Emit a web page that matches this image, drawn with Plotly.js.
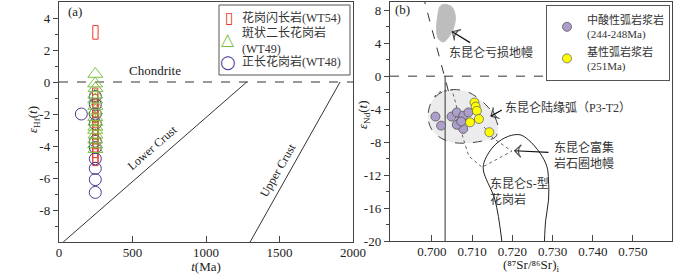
<!DOCTYPE html>
<html><head><meta charset="utf-8">
<script src="https://cdn.plot.ly/plotly-3.0.1.min.js"></script>
<style>html,body{margin:0;padding:0;background:#fff}#chart{width:700px;height:274px}</style>
</head><body><div id="chart"></div>
<script>
// ---------- Panel (a): zircon Hf isotopes ----------
const ageWT54 = [248, 246, 247, 248, 246, 247, 248, 246, 247, 248, 246, 247, 248, 246, 247, 248];
const hfWT54  = [3.1, -0.8, -1.2, -1.5, -1.8, -2.1, -2.4, -2.6, -2.9, -3.1, -3.4, -3.7, -4.0, -4.3, -4.6, -4.8];
const ageWT49 = [247, 246, 248, 247, 246, 248, 247, 246, 248, 247, 246, 248, 247, 246, 248];
const hfWT49  = [0.5, -0.1, -0.4, -0.8, -1.1, -1.5, -1.8, -2.2, -2.5, -2.8, -3.0, -3.3, -3.6, -3.9, -4.2];
const ageWT48 = [152, 247, 247, 247, 247, 247, 247, 247, 247, 247, 247];
const hfWT48  = [-2.0, -0.9, -1.4, -2.0, -2.6, -3.7, -4.1, -4.8, -5.4, -6.1, -6.9];

const chondriteT = [0, 2000],   chondriteHf = [0, 0];
const lowerCrustT = [29, 1277], lowerCrustHf = [-10, 0];
const upperCrustT = [1300, 1912], upperCrustHf = [-10, 0];

const tickAx = [0, 500, 1000, 1500, 2000];
const tickAy = [-8, -6, -4, -2, 0, 2, 4];
const tickAyText = ['-8', '-6', '-4', '-2', '0', '2', '4'];
const minorAy = [-9, -7, -5, -3, -1, 1, 3];

// ---------- Panel (b): whole-rock Sr-Nd ----------
const srFelsicArc = [0.7009, 0.7023, 0.7049, 0.7062, 0.7066, 0.7074, 0.7078, 0.7091, 0.7078, 0.7062, 0.7073];
const ndFelsicArc = [-4.9, -6.0, -4.9, -4.4, -5.8, -5.2, -4.8, -4.4, -6.4, -5.9, -5.5];
const srMaficArc  = [0.7106, 0.7109, 0.7112, 0.7117, 0.7095, 0.7143];
const ndMaficArc  = [-3.2, -3.7, -4.2, -5.2, -5.6, -6.8];

const depletedMantleSr = [0.7029, 0.7049, 0.7058, 0.7056, 0.7045, 0.7029, 0.7016, 0.7012, 0.7015, 0.7020, 0.7029];
const depletedMantleNd = [8.71, 8.43, 7.40, 6.18, 4.96, 4.16, 4.56, 5.78, 7.40, 8.43, 8.71];
const arcFieldSr = [0.6995, 0.7008, 0.7028, 0.7053, 0.7087, 0.7112, 0.7140, 0.7157, 0.7165, 0.7157, 0.7128, 0.7087, 0.7053, 0.7020, 0.6999, 0.6991, 0.6995];
const arcFieldNd = [-3.57, -2.55, -1.87, -1.62, -1.87, -2.55, -3.77, -4.99, -6.41, -7.43, -7.84, -8.12, -8.04, -7.43, -6.41, -5.20, -3.57];
const enrichedMantleSr = [0.7005, 0.7020, 0.7050, 0.7060, 0.7068, 0.7077, 0.7092, 0.7125, 0.7162, 0.7199, 0.7152, 0.7130];
const enrichedMantleNd = [-2.51, -1.90, -1.66, -3.37, -5.20, -7.39, -9.71, -11.05, -10.07, -9.10, -7.51, -6.17];
const sTypeSr = [0.7174, 0.7157, 0.7128, 0.7132, 0.7157, 0.7190, 0.7219, 0.7240, 0.7269, 0.7286, 0.7290, 0.7290, 0.7283, 0.7280];
const sTypeNd = [-20.0, -15.04, -11.38, -10.16, -8.33, -7.30, -7.11, -7.72, -9.34, -10.96, -12.60, -15.04, -17.48, -20.0];
const mantleArraySr = [0.6978, 0.7043], mantleArrayNd = [9.8, -2.15];
const bulkEarthSr = [0.7033, 0.7033], bulkEarthNd = [0, -20];
const churSr = [0.6896, 0.7597], churNd = [0, 0];

// label pointers (tail -> head)
const pointerDMSr = [0.7095, 0.7051], pointerDMNd = [4.07, 5.40];
const pointerArcSr = [0.7174, 0.7147], pointerArcNd = [-4.10, -4.85];
const pointerEMSr = [0.7290, 0.7206], pointerEMNd = [-9.24, -9.05];

const tickBx = [0.700, 0.710, 0.720, 0.730, 0.740, 0.750];
const tickBy = [-20, -16, -12, -8, -4, 0, 4, 8];
const tickByText = ['-20', '-16', '-12', '-8', '-4', '0', '4', '8'];
const minorBy = [-18, -14, -10, -6, -2, 2, 6];

// ---------- helpers ----------
const W = 700, H = 274;
const SERIF = 'Liberation Serif, "Noto Sans CJK SC", serif';
const CJK = 'Liberation Serif, "Noto Sans CJK SC", sans-serif';
const AX = '#444';
// open tall-rectangle symbol of WT54, drawn as hollow bars (size in data units of the axes)
const RECT_W = 36, RECT_H = 0.85;

function px(x, y) { return {x: x / W, y: 1 - y / H, xref: 'paper', yref: 'paper'}; }
function label(x, y, text, opts) {
  return Object.assign(px(x, y), {text: text, showarrow: false, xanchor: 'center', yanchor: 'middle',
    font: {family: CJK, size: 12, color: '#333'}}, opts || {});
}
function pointer(xs, ys) {
  return {x: xs, y: ys, mode: 'lines+markers', xaxis: 'x2', yaxis: 'y2', showlegend: false, hoverinfo: 'skip',
    line: {color: '#111', width: 1.2},
    marker: {symbol: 'arrow-wide-open', size: [0, 9], angleref: 'previous', color: '#111', line: {color: '#111', width: 1.2}}};
}

const traces = [
  // panel a reference lines
  {x: chondriteT, y: chondriteHf, mode: 'lines', line: {color: '#333', width: 1, dash: 'dash'}, xaxis: 'x', yaxis: 'y', showlegend: false, hoverinfo: 'skip'},
  {x: lowerCrustT, y: lowerCrustHf, mode: 'lines', line: {color: '#333', width: 1}, xaxis: 'x', yaxis: 'y', showlegend: false, hoverinfo: 'skip'},
  {x: upperCrustT, y: upperCrustHf, mode: 'lines', line: {color: '#333', width: 1}, xaxis: 'x', yaxis: 'y', showlegend: false, hoverinfo: 'skip'},
  // panel a data: WT54 open rectangles
  {type: 'bar', x: ageWT54, y: hfWT54.map(() => RECT_H), base: hfWT54.map(v => v - RECT_H / 2), width: RECT_W,
   name: '花岗闪长岩(WT54)', xaxis: 'x', yaxis: 'y', showlegend: false,
   marker: {color: 'rgba(0,0,0,0)', line: {color: '#ee3a2a', width: 1}}},
  {x: ageWT48, y: hfWT48, mode: 'markers', name: '正长花岗岩(WT48)', xaxis: 'x', yaxis: 'y', showlegend: false,
   marker: {symbol: 'circle-open', size: 12, color: '#4a3a8f', line: {width: 1}}},
  {x: ageWT49, y: hfWT49, mode: 'markers', name: '斑状二长花岗岩(WT49)', xaxis: 'x', yaxis: 'y', showlegend: false,
   marker: {symbol: 'triangle-up-open', size: 13, color: '#7cc142', line: {width: 1}}},

  // panel b fields
  {x: arcFieldSr, y: arcFieldNd, mode: 'lines', fill: 'toself', fillcolor: '#ececec', line: {color: '#444', width: 1, dash: 'dash', shape: 'spline'}, xaxis: 'x2', yaxis: 'y2', showlegend: false, hoverinfo: 'skip'},
  {x: depletedMantleSr, y: depletedMantleNd, mode: 'lines', fill: 'toself', fillcolor: '#bdbdbd', line: {color: '#bdbdbd', width: 1, shape: 'spline'}, xaxis: 'x2', yaxis: 'y2', showlegend: false, hoverinfo: 'skip'},
  {x: enrichedMantleSr, y: enrichedMantleNd, mode: 'lines', line: {color: '#666', width: 1, dash: 'dot'}, xaxis: 'x2', yaxis: 'y2', showlegend: false, hoverinfo: 'skip'},
  {x: sTypeSr, y: sTypeNd, mode: 'lines', line: {color: '#222', width: 1, shape: 'spline'}, xaxis: 'x2', yaxis: 'y2', showlegend: false, hoverinfo: 'skip'},
  {x: churSr, y: churNd, mode: 'lines', line: {color: '#333', width: 1, dash: 'dash'}, xaxis: 'x2', yaxis: 'y2', showlegend: false, hoverinfo: 'skip'},
  {x: mantleArraySr, y: mantleArrayNd, mode: 'lines', line: {color: '#333', width: 1, dash: 'dash'}, xaxis: 'x2', yaxis: 'y2', showlegend: false, hoverinfo: 'skip'},
  {x: bulkEarthSr, y: bulkEarthNd, mode: 'lines', line: {color: '#333', width: 1}, xaxis: 'x2', yaxis: 'y2', showlegend: false, hoverinfo: 'skip'},
  pointer(pointerDMSr, pointerDMNd),
  pointer(pointerArcSr, pointerArcNd),
  pointer(pointerEMSr, pointerEMNd),
  // panel b data
  {x: srFelsicArc, y: ndFelsicArc, mode: 'markers', name: '中酸性弧岩浆岩<br>(244-248Ma)', xaxis: 'x2', yaxis: 'y2',
   marker: {symbol: 'circle', size: 9, color: '#ad9fcb', line: {color: '#555', width: 0.8}}},
  {x: srMaficArc, y: ndMaficArc, mode: 'markers', name: '基性弧岩浆岩<br>(251Ma)', xaxis: 'x2', yaxis: 'y2',
   marker: {symbol: 'circle', size: 9, color: '#ffff00', line: {color: '#666', width: 0.8}}}
];

const axisCommon = {showline: true, linecolor: AX, linewidth: 1.2, mirror: true, showgrid: false, zeroline: false,
  tickcolor: AX, tickfont: {family: SERIF, size: 13, color: '#222'}};

const layout = {
  width: W, height: H, margin: {l: 0, r: 0, t: 0, b: 0},
  paper_bgcolor: '#fff', plot_bgcolor: '#fff',
  font: {family: SERIF, size: 13, color: '#222'},
  showlegend: true, barmode: 'overlay',
  legend: {x: 670 / W, xanchor: 'right', y: 1 - 5 / H, yanchor: 'top', bgcolor: '#fff', bordercolor: '#555', borderwidth: 1,
    font: {family: CJK, size: 11, color: '#333'}, itemsizing: 'trace', valign: 'middle', tracegroupgap: 2},
  xaxis: Object.assign({}, axisCommon, {domain: [59 / W, 353 / W], range: [0, 2000], anchor: 'y',
    tickvals: tickAx, ticks: 'inside', ticklen: 6, ticklabelstandoff: -2,
    title: {text: '<i>t</i>(Ma)', font: {family: SERIF, size: 13}, standoff: 3}}),
  yaxis: Object.assign({}, axisCommon, {domain: [1 - 242 / H, 1 - 2 / H], range: [-10, 5], anchor: 'x',
    tickvals: tickAy, ticktext: tickAyText, ticks: 'outside', ticklen: 5,
    minor: {tickvals: minorAy, ticks: 'outside', ticklen: 3, tickcolor: AX}}),
  xaxis2: Object.assign({}, axisCommon, {domain: [390 / W, 672 / W], range: [0.6896, 0.7597], anchor: 'y2',
    tickvals: tickBx, tickformat: '.3f', ticks: 'inside', ticklen: 6, ticklabelstandoff: -2,
    title: {text: '(⁸⁷Sr/⁸⁶Sr)<sub>i</sub>', font: {family: SERIF, size: 13}, standoff: 3}}),
  yaxis2: Object.assign({}, axisCommon, {domain: [1 - 241 / H, 1 - 2 / H], range: [-20, 9.0], anchor: 'x2',
    tickvals: tickBy, ticktext: tickByText, ticks: 'outside', ticklen: 5,
    minor: {tickvals: minorBy, ticks: 'outside', ticklen: 3, tickcolor: AX}}),
  shapes: [
    Object.assign({type: 'rect', x0: 219 / W, x1: 350 / W, y0: 1 - 75 / H, y1: 1 - 5 / H, xref: 'paper', yref: 'paper',
      line: {color: '#555', width: 1}, fillcolor: '#fff', layer: 'above'})
  ],
  annotations: [
    // y-axis titles
    label(33, 120, '<i>ε</i><sub>Hf</sub>(<i>t</i>)', {textangle: -90, font: {family: SERIF, size: 13, color: '#222'}}),
    label(363, 115, '<i>ε</i><sub>Nd</sub>(<i>t</i>)', {textangle: -90, font: {family: SERIF, size: 13, color: '#222'}}),
    label(75, 12, '(a)', {font: {family: SERIF, size: 13, color: '#222'}}),
    label(155, 71, 'Chondrite', {font: {family: SERIF, size: 13, color: '#222'}}),
    label(152, 148, 'Lower Crust', {textangle: -41, font: {family: SERIF, size: 12, color: '#222'}}),
    label(278, 170, 'Upper Crust', {textangle: -60, font: {family: SERIF, size: 12, color: '#222'}}),
    // legend (a)
    label(229.3, 17.3, '▯', {font: {family: 'DejaVu Sans', size: 16, color: '#ee3a2a'}}),
    label(228.3, 39.3, '△', {font: {family: 'DejaVu Sans', size: 17, color: '#7cc142'}}),
    label(228.3, 61.7, '○', {font: {family: 'DejaVu Sans', size: 18, color: '#4a3a8f'}}),
    label(240, 17.3, '花岗闪长岩(WT54)', {xanchor: 'left'}),
    label(240, 41, '斑状二长花岗岩<br>(WT49)', {xanchor: 'left', align: 'left'}),
    label(240, 61.7, '正长花岗岩(WT48)', {xanchor: 'left'}),
    // panel b labels
    label(402, 10, '(b)', {font: {family: SERIF, size: 13, color: '#222'}}),
    label(491, 52, '东昆仑亏损地幔'),
    label(568, 108, '东昆仑陆缘弧（P3-T2）'),
    label(584, 155, '东昆仑富集<br>岩石圈地幔'),
    label(488, 192, '东昆仑S-型<br>花岗岩', {xanchor: 'left', align: 'left'})
  ]
};

Plotly.newPlot('chart', traces, layout, {displayModeBar: false, staticPlot: true});
</script>
</body></html>
